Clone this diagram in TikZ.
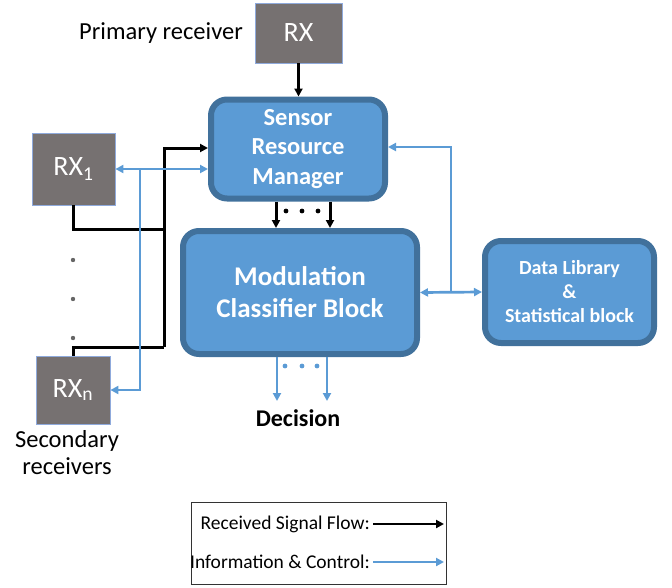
\documentclass[tikz,border=0pt]{standalone}
\usepackage{fontspec}
\setmainfont{Carlito}
\usetikzlibrary{arrows.meta,calc}
\definecolor{bfill}{HTML}{5B9BD5}
\definecolor{bdraw}{HTML}{41719C}
\definecolor{gfill}{HTML}{767171}
\definecolor{gline}{HTML}{8FAADC}
\tikzset{
  x=1pt,y=-1pt,
  blk/.style={draw=bdraw,fill=bfill,line width=6pt,rounded corners=16pt,text=white,align=center,inner sep=0pt},
  rxbox/.style={draw=gline,fill=gfill,line width=0.8pt,text=white,inner sep=0pt,font=\fontsize{28}{30}\selectfont},
  sig/.style={line width=3pt,black,-{Triangle[length=8pt,width=8pt]}},
  sigline/.style={line width=3pt,black},
  inf/.style={line width=2.7pt,bfill,-{Triangle[length=8pt,width=8pt]}},
  infb/.style={line width=2.7pt,bfill,{Triangle[length=8pt,width=8pt]}-{Triangle[length=8pt,width=8pt]}},
  lbl/.style={inner sep=0pt,font=\fontsize{24.5}{27}\selectfont},
}
\begin{document}
\begin{tikzpicture}
\useasboundingbox (0,0) rectangle (672,587);
% blocks
\node[blk,minimum width=174pt,minimum height=99pt,font=\bfseries\fontsize{24.5}{29.5}\selectfont] (SRM) at (298,149) {Sensor\\Resource\\Manager};
\node[blk,minimum width=234pt,minimum height=123pt,font=\bfseries\fontsize{27}{32}\selectfont] (MCB) at (300,292.5) {Modulation\\Classifier Block};
\node[blk,minimum width=169pt,minimum height=102pt,font=\bfseries\fontsize{20}{24}\selectfont] (DL) at (569.5,292) {Data Library\\\&\\Statistical block};
% receivers
\node[rxbox,minimum width=87pt,minimum height=60pt] (RX) at (298.5,33) {RX};
\node[rxbox,minimum width=83pt,minimum height=72pt] (RX1) at (73.5,169) {RX\textsubscript{1}};
\node[rxbox,minimum width=74pt,minimum height=68pt] (RXn) at (73,390) {RX\textsubscript{n}};
% labels
\node[lbl,anchor=east] (prim) at (243,33) {Primary receiver};
\node[lbl,align=center,anchor=north,font=\fontsize{24.5}{27}\selectfont] (sec) at (67,430) {Secondary\\receivers};
\node[inner sep=0pt,font=\bfseries\fontsize{24}{26}\selectfont] (dec) at (298,418) {Decision};
\foreach \y/\n in {260/a,299/b,338/c}{\fill[gray!80!black] (73,\y) circle (2.2pt) coordinate (ld\n);}
% black signal flow
\draw[sig] (RX.south) -- (SRM.north -| RX.south);
\coordinate (j1) at (164,229);
\coordinate (j2) at (164,347);
\draw[sigline] (RX1.south) |- (j1);
\draw[sigline] (RXn.north) |- (j2);
\draw[sig] (j2) |- ($(SRM.west)+(0,-1)$);
\coordinate (s1) at ($(SRM.south)+(-22,0)$);
\coordinate (s2) at ($(SRM.south)+(32,0)$);
\draw[sig] (s1) -- (s1 |- MCB.north);
\draw[sig] (s2) -- (s2 |- MCB.north);
\foreach \x in {286,302,318}{\fill (\x,211) circle (2.4pt);}
% blue info
\draw[infb] (RX1.east) -- (RX1.east -| SRM.west);
\coordinate (b1) at (140,169);
\draw[inf] (b1) |- (RXn.east);
\coordinate (b2) at (451,292);
\draw[infb] (MCB.east) -- (DL.west);
\draw[inf] (b2) |- ($(SRM.east)+(0,-2)$);
\coordinate (d1) at (277,401);
\coordinate (d2) at (327,401);
\draw[inf] (d1 |- MCB.south) -- (d1);
\draw[inf] (d2 |- MCB.south) -- (d2);
\foreach \x in {285,302,317}{\fill[bfill] (\x,366) circle (2.4pt);}
% legend
\node[draw=black!80,line width=0.8pt,minimum width=255pt,minimum height=82pt,inner sep=0pt] (leg) at (318.5,543) {};
\node[inner sep=0pt,anchor=east,font=\fontsize{19.5}{21}\selectfont] (l1) at (370,524) {Received Signal Flow:};
\node[inner sep=0pt,anchor=east,font=\fontsize{19.5}{21}\selectfont] (l2) at (370,562) {Information \& Control:};
\coordinate (e1) at (444,524);
\coordinate (e2) at (444,562);
\draw[line width=2.4pt,black,-{Triangle[length=8pt,width=8pt]}] (l1.east) ++(3,0) -- (e1);
\draw[line width=2.4pt,bfill,-{Triangle[length=8pt,width=8pt]}] (l2.east) ++(3,0) -- (e2);
\end{tikzpicture}
\end{document}
